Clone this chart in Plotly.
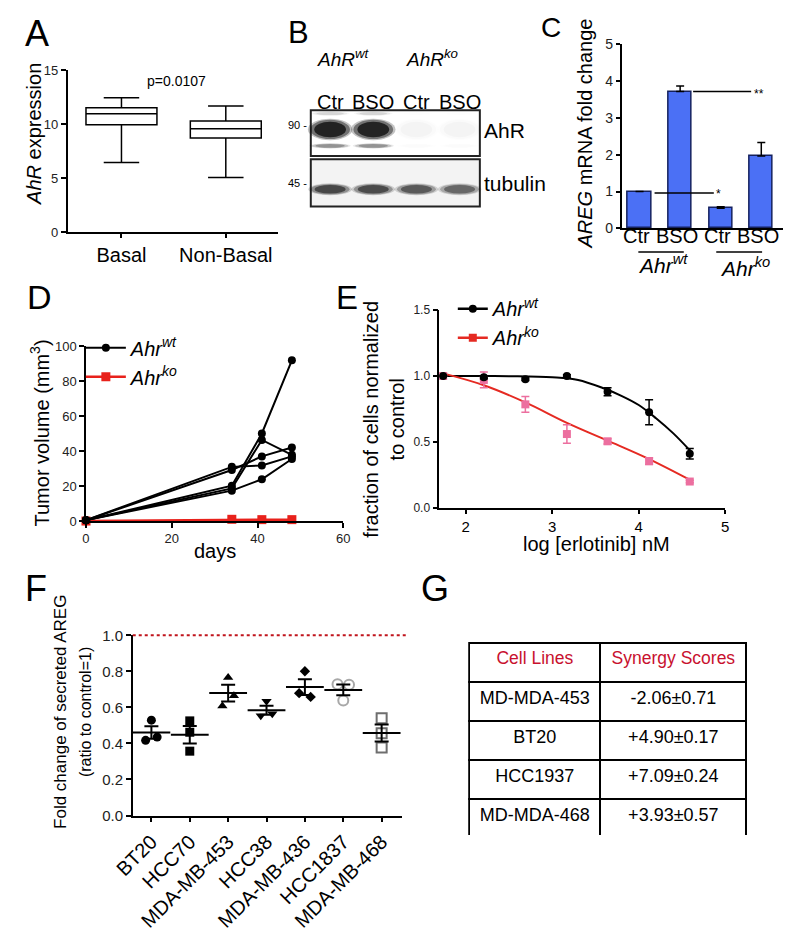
import plotly.graph_objects as go
import numpy as np

W, H = 796, 932

# ---------------- DATA ----------------
# A: AhR expression box plot
a_groups = ["Basal", "Non-Basal"]
a_lowerfence = [6.44, 5.05]
a_q1 = [9.93, 8.71]
a_median = [10.95, 9.56]
a_q3 = [11.5, 10.29]
a_upperfence = [12.43, 11.68]
a_pvalue = "p=0.0107"

# B: western blot
b_lanes = ["Ctr", "BSO", "Ctr", "BSO"]
b_groups = ["<i>AhR<sup>wt</sup></i>", "<i>AhR<sup>ko</sup></i>"]
b_ahr_intensity = [1.0, 1.0, 0.03, 0.03]
b_tubulin_intensity = [0.78, 0.75, 0.66, 0.58]
b_mw = ["90", "45"]
b_rows = ["AhR", "tubulin"]

# C: AREG mRNA fold change
c_labels = ["Ctr", "BSO", "Ctr", "BSO"]
c_values = [1.0, 3.71, 0.55, 1.96]
c_err = [0.0, 0.15, 0.04, 0.37]

# D: tumor volume
d_days = [0, 34, 41, 48]
d_wt = [
    [0.5, 31.0, 31.8, 37.0],
    [0.5, 29.2, 37.0, 42.1],
    [0.5, 20.2, 50.1, 92.0],
    [0.5, 18.7, 46.4, 37.9],
    [0.5, 17.4, 23.9, 35.5],
]
d_ko = [0.0, 1.0, 0.8, 0.8]

# E: erlotinib dose response
e_logdose = [1.74, 2.21, 2.69, 3.17, 3.64, 4.12, 4.59]
e_wt = [1.0, 0.99, 0.975, 1.0, 0.88, 0.725, 0.41]
e_wt_err = [0.0, 0.01, 0.01, 0.01, 0.03, 0.095, 0.04]
e_ko = [1.0, 0.97, 0.785, 0.56, 0.505, 0.355, 0.2]
e_ko_err = [0.0, 0.06, 0.06, 0.07, 0.02, 0.025, 0.01]
e_fit_x_wt = [1.74, 2.0, 2.5, 3.0, 3.3, 3.6, 3.8, 4.0, 4.2, 4.4, 4.6]
e_fit_wt = [1.0, 1.0, 0.998, 0.99, 0.97, 0.905, 0.85, 0.78, 0.68, 0.565, 0.43]
e_fit_x_ko = [1.74, 2.21, 2.69, 3.17, 3.64, 4.12, 4.6]
e_fit_ko = [1.02, 0.93, 0.80, 0.645, 0.51, 0.37, 0.21]

# F: secreted AREG
f_lines = ["BT20", "HCC70", "MDA-MB-453", "HCC38", "MDA-MB-436", "HCC1837", "MDA-MB-468"]
f_values = [
    [0.529, 0.417, 0.435],
    [0.525, 0.462, 0.357],
    [0.766, 0.665, 0.607],
    [0.634, 0.553, 0.565],
    [0.80, 0.679, 0.658],
    [0.728, 0.725, 0.638],
    [0.54, 0.457, 0.377],
]

# G: synergy table
g_header = ["Cell Lines", "Synergy Scores"]
g_cells = ["MD-MDA-453", "BT20", "HCC1937", "MD-MDA-468"]
g_scores = ["-2.06±0.71", "+4.90±0.17", "+7.09±0.24", "+3.93±0.57"]

# ---------------- LAYOUT HELPERS ----------------
FONT = "Liberation Sans, Arial, sans-serif"
annotations = []
shapes = []


def px_x(px):
    return px / W


def px_y(py):
    return 1 - py / H


def ann(text, xpx, ypx, size=20, **kw):
    d = dict(text=text, x=px_x(xpx), y=px_y(ypx), xref="paper", yref="paper",
             showarrow=False, font=dict(size=size, color="black", family=FONT),
             xanchor="center", yanchor="middle")
    d.update(kw)
    annotations.append(d)


def hline_px(x0, x1, y, color="black", width=1.5, dash=None):
    ln = dict(color=color, width=width)
    if dash:
        ln["dash"] = dash
    shapes.append(dict(type="line", xref="paper", yref="paper", x0=px_x(x0), x1=px_x(x1),
                       y0=px_y(y), y1=px_y(y), line=ln))


def axstyle(dom_px, rng, anchor, **kw):
    d = dict(domain=dom_px, range=rng, anchor=anchor, showgrid=False, zeroline=False,
             showline=True, linecolor="black", linewidth=1.5, ticks="outside", ticklen=5,
             tickwidth=1.5, tickcolor="black", tickfont=dict(size=13, color="#222", family=FONT),
             fixedrange=True)
    d.update(kw)
    return d


# panel geometry (pixel domains and ranges) used for decorations tied to data
PANEL = {
    "C": dict(x=(622.7, 790.0), xr=(-0.443, 3.54), y=(35.7, 224.0), yr=(0, 5)),
    "F": dict(x=(116.7, 395.0), xr=(-0.486, 6.52), y=(639.3, 823.3), yr=(0, 1.0)),
}


def data_to_px(p, x, y):
    g = PANEL[p]
    xp = g["x"][0] + (x - g["xr"][0]) / (g["xr"][1] - g["xr"][0]) * (g["x"][1] - g["x"][0])
    yp = g["y"][1] - (y - g["yr"][0]) / (g["yr"][1] - g["yr"][0]) * (g["y"][1] - g["y"][0])
    return xp, yp


fig = go.Figure()

# ---------------- A ----------------
fig.add_trace(go.Box(x=[0, 1], q1=a_q1, median=a_median, q3=a_q3, lowerfence=a_lowerfence,
                     upperfence=a_upperfence, width=0.68, whiskerwidth=0.5, boxpoints=False,
                     fillcolor="white", line=dict(color="black", width=1.5),
                     xaxis="x", yaxis="y", showlegend=False, hoverinfo="skip"))
ann(a_pvalue, 162, 73, size=14)
ann("<i>AhR</i> expression", 15, 127, size=20, textangle=-90)
ann("A", 18, 25, size=36)

# ---------------- B ----------------
fig.add_trace(go.Scatter(x=[1, 2, 3, 4], y=[0.5] * 4, mode="markers", marker=dict(opacity=0),
                         xaxis="x2", yaxis="y2", showlegend=False, hoverinfo="skip"))
shapes.append(dict(type="rect", xref="x2", yref="y2", x0=0.552, x1=4.47, y0=0.525, y1=1.0,
                   line=dict(color="#222", width=2), fillcolor="white", layer="below"))
shapes.append(dict(type="rect", xref="x2", yref="y2", x0=0.552, x1=4.47, y0=0.0, y1=0.492,
                   line=dict(color="#222", width=2), fillcolor="#f3f3f3", layer="below"))


def band(lane, yc, h, w, alpha):
    for scale, a in [(1.12, 0.25), (1.0, 0.45), (0.8, 0.8)]:
        shapes.append(dict(type="circle", xref="x2", yref="y2",
                           x0=lane - w * scale / 2, x1=lane + w * scale / 2,
                           y0=yc - h * scale / 2, y1=yc + h * scale / 2,
                           fillcolor="rgba(15,15,15,%.3f)" % (alpha * a),
                           line=dict(width=0), layer="above"))


for i, a in enumerate(b_ahr_intensity):
    lane = i + 1
    band(lane, 0.80, 0.2, 0.92, a)
    band(lane, 0.63, 0.05, 0.85, a * 0.35)
    band(lane, 0.965, 0.04, 0.8, a * 0.12)
for i, a in enumerate(b_tubulin_intensity):
    lane = i + 1
    band(lane, 0.18, 0.11, 0.9, a * 0.9)
for i, lab in enumerate(b_lanes):
    annotations.append(dict(text=lab, x=i + 1, xref="x2", y=px_y(95), yref="paper", showarrow=False,
                            font=dict(size=20, color="black", family=FONT), xanchor="center", yanchor="middle"))
ann(b_groups[0], 305, 50, size=19, xanchor="left")
ann(b_groups[1], 397, 50, size=19, xanchor="left")
ann(b_mw[0] + " -", 299, 118, size=11, xanchor="right")
ann(b_mw[1] + " -", 299, 178, size=11, xanchor="right")
ann(b_rows[0], 478, 124, size=21, xanchor="left")
ann(b_rows[1], 478, 178, size=21, xanchor="left")
ann("B", 288, 24, size=31)

# ---------------- C ----------------
fig.add_trace(go.Bar(x=list(range(4)), y=c_values, width=0.57,
                     marker=dict(color="#4b70f5", line=dict(color="#15215e", width=1.5)),
                     error_y=dict(type="data", array=c_err, arrayminus=[0] * 4, symmetric=False,
                                  color="black", thickness=1.5, width=4),
                     xaxis="x3", yaxis="y3", showlegend=False, hoverinfo="skip"))
for i, lab in enumerate(c_labels):
    ann(lab, data_to_px("C", i, 0)[0] - 3, 232, size=20)
x0, y0 = data_to_px("C", 0.37, 0.96)
x1, _ = data_to_px("C", 1.83, 0.96)
hline_px(x0, x1, y0, width=1.5)
ann("*", data_to_px("C", 1.95, 0)[0], y0 + 1, size=12)
x0, y0 = data_to_px("C", 1.32, c_values[1])
x1, _ = data_to_px("C", 2.75, c_values[1])
hline_px(x0, x1, y0, width=1.5)
ann("**", data_to_px("C", 2.95, 0)[0], y0 + 2, size=12)
ua, _ = data_to_px("C", -0.03, 0)
ub, _ = data_to_px("C", 1.09, 0)
hline_px(ua, ub, 248, width=1.5)
ann("<i>Ahr<sup>wt</sup></i>", (ua + ub) / 2 + 2, 260, size=21)
ua, _ = data_to_px("C", 1.89, 0)
ub, _ = data_to_px("C", 3.02, 0)
hline_px(ua, ub, 248, width=1.5)
ann("<i>Ahr<sup>ko</sup></i>", (ua + ub) / 2 + 6, 263, size=21)
ann("<i>AREG</i> mRNA fold change", 585, 127, size=20, textangle=-90)
ann("C", 550, 19, size=28)

# ---------------- D ----------------
fig.add_trace(go.Scatter(x=d_days, y=d_ko, mode="lines+markers", line=dict(color="#e8211b", width=2.5),
                         marker=dict(symbol="square", size=9, color="#e8211b"),
                         name="<i>Ahr<sup>ko</sup></i>", legendrank=2, legend="legend",
                         xaxis="x4", yaxis="y4", cliponaxis=False, hoverinfo="skip"))
for i, ys in enumerate(d_wt):
    fig.add_trace(go.Scatter(x=d_days, y=ys, mode="lines+markers", line=dict(color="black", width=2),
                             marker=dict(symbol="circle", size=8, color="black"),
                             name="<i>Ahr<sup>wt</sup></i>", showlegend=(i == 0), legendrank=1,
                             legend="legend", xaxis="x4", yaxis="y4", cliponaxis=False,
                             hoverinfo="skip"))
ann("Tumor volume (mm<sup>3</sup>)", 20, 433, size=20, textangle=-90)
ann("days", 202, 553, size=20)
ann("D", 20, 294, size=34)

# ---------------- E ----------------
fig.add_trace(go.Scatter(x=e_fit_x_wt, y=e_fit_wt, mode="lines", line=dict(color="black", width=2, shape="spline"),
                         xaxis="x5", yaxis="y5", showlegend=False, hoverinfo="skip"))
fig.add_trace(go.Scatter(x=e_fit_x_ko, y=e_fit_ko, mode="lines", line=dict(color="#e52a22", width=2, shape="spline"),
                         xaxis="x5", yaxis="y5", showlegend=False, hoverinfo="skip"))
fig.add_trace(go.Scatter(x=e_logdose, y=e_ko, mode="markers",
                         marker=dict(symbol="square", size=8, color="#ec6f9f"),
                         error_y=dict(type="data", array=e_ko_err, color="#ec6f9f", thickness=1.5, width=4),
                         xaxis="x5", yaxis="y5", showlegend=False, cliponaxis=False, hoverinfo="skip"))
fig.add_trace(go.Scatter(x=e_logdose, y=e_wt, mode="markers",
                         marker=dict(symbol="circle", size=8, color="black"),
                         error_y=dict(type="data", array=e_wt_err, color="black", thickness=1.5, width=4),
                         xaxis="x5", yaxis="y5", showlegend=False, cliponaxis=False, hoverinfo="skip"))
fig.add_trace(go.Scatter(x=[None], y=[None], mode="lines+markers", line=dict(color="black", width=2.5),
                         marker=dict(symbol="circle", size=8, color="black"),
                         name="<i>Ahr<sup>wt</sup></i>", legend="legend2", legendrank=1,
                         xaxis="x5", yaxis="y5"))
fig.add_trace(go.Scatter(x=[None], y=[None], mode="lines+markers", line=dict(color="#e52a22", width=2.5),
                         marker=dict(symbol="square", size=8, color="#e52a22"),
                         name="<i>Ahr<sup>ko</sup></i>", legend="legend2", legendrank=2,
                         xaxis="x5", yaxis="y5"))
ann("fraction of cells normalized<br>to control", 377, 419, size=20, textangle=-90)
ann("log [erlotinib] nM", 597, 546, size=20)
ann("E", 338, 295, size=33)

# ---------------- F ----------------
f_symbols = ["circle", "square", "triangle-up", "triangle-down", "diamond", "circle-open", "square-open"]
f_colors = ["black", "black", "black", "black", "black", "#a8a8a8", "#6e6e6e"]
f_sizes = [9, 9, 9, 9, 8, 10, 10]
f_jitter = [[0, -1, 1], [0, 0, 0], [0, 1, -1], [0, -1, 1], [0, -1, 1], [-1, 1, 0], [0, 0, 0]]
for i, vals in enumerate(f_values):
    xs = [i + 0.15 * j for j in f_jitter[i]]
    fig.add_trace(go.Scatter(x=xs, y=vals, mode="markers",
                             marker=dict(symbol=f_symbols[i], size=f_sizes[i], color=f_colors[i],
                                         line=dict(color=f_colors[i], width=2 if "open" in f_symbols[i] else 0)),
                             xaxis="x6", yaxis="y6", showlegend=False, cliponaxis=False, hoverinfo="skip"))
f_means = [float(np.mean(v)) for v in f_values]
f_sems = [float(np.std(v, ddof=1) / np.sqrt(len(v))) for v in f_values]
fig.add_trace(go.Scatter(x=list(range(len(f_lines))), y=f_means, mode="markers",
                         marker=dict(symbol="line-ew", size=27, color="black", line=dict(color="black", width=2)),
                         error_y=dict(type="data", array=f_sems, color="black", thickness=2, width=7),
                         xaxis="x6", yaxis="y6", showlegend=False, cliponaxis=False, hoverinfo="skip"))
lx0, ly = data_to_px("F", -0.486, 1.0)
hline_px(lx0, 400, ly, color="#c0141c", width=2, dash="dot")
ann("Fold change of secreted AREG", 42, 718, size=17, textangle=-90)
ann("(ratio to control=1)", 68, 718, size=16, textangle=-90)
ann("F", 17, 592, size=36)

# ---------------- G ----------------
fig.add_trace(go.Table(domain=dict(x=[465 / W, 752 / W], y=[1 - 843.3 / H, 1 - 647.3 / H]),
                       columnwidth=[136, 151],
                       header=dict(values=g_header, font=dict(size=17.5, color="#c8102e", family=FONT),
                                   align="center", height=39, line=dict(color="black", width=2),
                                   fill=dict(color="white")),
                       cells=dict(values=[g_cells, g_scores], font=dict(size=18, color="black", family=FONT),
                                  align="center", height=39, line=dict(color="black", width=2),
                                  fill=dict(color="white"))))
ann("G", 430, 592, size=36)

# ---------------- AXES ----------------
def dx(a, b):
    return [a / W, b / W]


def dy(top, bot):
    return [1 - bot / H, 1 - top / H]


fig.update_layout(
    width=W, height=H, margin=dict(l=0, r=0, t=0, b=0), autosize=False,
    paper_bgcolor="white", plot_bgcolor="rgba(0,0,0,0)",
    font=dict(family=FONT, color="black"),
    bargap=0,
    xaxis=axstyle(dx(49.3, 266.7), [-0.516, 1.497], "y", tickvals=[0, 1], ticktext=a_groups,
                  ticklen=4, tickfont=dict(size=20, color="black", family=FONT)),
    yaxis=axstyle(dy(62.3, 227.7), [0, 15], "x", dtick=5, tickfont=dict(size=13, color="#222", family=FONT)),
    xaxis2=dict(domain=dx(296, 481), range=[0.44, 4.582], anchor="y2", visible=False, fixedrange=True),
    yaxis2=dict(domain=dy(98, 206), range=[-0.0437, 1.054], anchor="x2", visible=False, fixedrange=True),
    xaxis3=axstyle(dx(622.7, 790), [-0.443, 3.54], "y3", tickvals=[0, 1, 2, 3],
                   ticks="", showticklabels=False),
    yaxis3=axstyle(dy(35.7, 224), [0, 5], "x3", dtick=1, ticklen=4, tickfont=dict(size=14, color="#222", family=FONT)),
    xaxis4=axstyle(dx(68.3, 334.7), [0, 60], "y4", dtick=20),
    yaxis4=axstyle(dy(344.3, 522.7), [0, 100], "x4", dtick=20),
    xaxis5=axstyle(dx(434, 730), [1.695, 5], "y5", tickvals=[2, 3, 4, 5], ticklen=4,
                   tickfont=dict(size=15, color="black", family=FONT)),
    yaxis5=axstyle(dy(307.3, 509.3), [0, 1.5], "x5", dtick=0.5, tickformat=".1f",
                   tickfont=dict(size=12, color="#222", family=FONT)),
    xaxis6=axstyle(dx(116.7, 395), [-0.486, 6.52], "y6", tickvals=list(range(len(f_lines))), ticktext=f_lines,
                   tickangle=-45, tickfont=dict(size=20, color="black", family=FONT)),
    yaxis6=axstyle(dy(639.3, 823.3), [0, 1.0], "x6", dtick=0.2, tickformat=".1f",
                   tickfont=dict(size=15, color="#222", family=FONT)),
    legend=dict(x=px_x(63), y=px_y(326), xanchor="left", yanchor="top", bgcolor="rgba(0,0,0,0)",
                font=dict(size=20, family=FONT, color="black"), itemwidth=40, tracegroupgap=0),
    legend2=dict(x=px_x(448), y=px_y(286), xanchor="left", yanchor="top", bgcolor="rgba(0,0,0,0)",
                 font=dict(size=20, family=FONT, color="black"), itemwidth=30, tracegroupgap=0),
    shapes=shapes,
    annotations=annotations,
)

fig.write_html("out.html", config={"displayModeBar": False},
               post_script="document.body.style.margin='0';")
